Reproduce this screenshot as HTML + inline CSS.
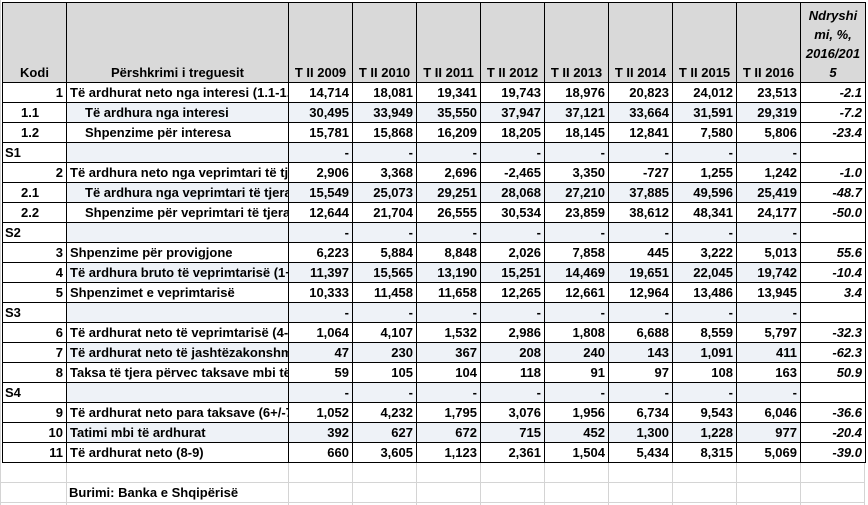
<!DOCTYPE html>
<html><head><meta charset="utf-8"><style>
body{margin:0;width:868px;height:505px;background:#fff;overflow:hidden;position:relative;font-family:"Liberation Sans",Arial,sans-serif;font-weight:bold;font-size:13px;color:#000}
table{border-collapse:collapse;table-layout:fixed;position:absolute;left:2px;top:2px;width:863px}
td{border:1px solid #000;height:19px;padding:0 3px;white-space:nowrap;overflow:hidden;text-align:right;line-height:19px;max-width:0}
tr.h td{height:79px;background:#d9d9d9;text-align:center;vertical-align:bottom;line-height:19px;padding-bottom:0}
td.d{text-align:left;padding-left:3px;text-overflow:clip}
td.i{padding-left:18px}
td.k{text-align:left;padding-left:18px}
td.kr{text-align:right}
td.s{text-align:left;padding-left:2px}
td.p{font-style:italic}
tr.sh td{background:#eef2f7}
tr.sh td.w{background:#fff}
.g{position:absolute;background:#d4d4d4}
</style></head><body>
<div class="g" style="left:0;top:0;width:1px;height:505px"></div>
<div class="g" style="left:1px;top:482px;width:864px;height:1px"></div>
<div class="g" style="left:1px;top:502px;width:864px;height:1px"></div>
<div class="g" style="left:66px;top:462px;width:1px;height:43px"></div>
<div class="g" style="left:288px;top:462px;width:1px;height:43px"></div>
<div class="g" style="left:352px;top:462px;width:1px;height:43px"></div>
<div class="g" style="left:416px;top:462px;width:1px;height:43px"></div>
<div class="g" style="left:480px;top:462px;width:1px;height:43px"></div>
<div class="g" style="left:544px;top:462px;width:1px;height:43px"></div>
<div class="g" style="left:608px;top:462px;width:1px;height:43px"></div>
<div class="g" style="left:672px;top:462px;width:1px;height:43px"></div>
<div class="g" style="left:736px;top:462px;width:1px;height:43px"></div>
<div class="g" style="left:800px;top:462px;width:1px;height:43px"></div>
<div class="g" style="left:864px;top:462px;width:1px;height:43px"></div>
<div style="position:absolute;left:69px;top:484px;line-height:17px">Burimi: Banka e Shqipërisë</div>
<table>
<colgroup><col style="width:64px"><col style="width:222px"><col style="width:64px"><col style="width:64px"><col style="width:64px"><col style="width:64px"><col style="width:64px"><col style="width:64px"><col style="width:64px"><col style="width:64px"><col style="width:65px"></colgroup>
<tr class="h"><td>Kodi</td><td>Përshkrimi i treguesit</td><td>T II 2009</td><td>T II 2010</td><td>T II 2011</td><td>T II 2012</td><td>T II 2013</td><td>T II 2014</td><td>T II 2015</td><td>T II 2016</td><td style="font-style:italic;padding:0 1px">Ndryshi<br>mi, %,<br>2016/201<br>5</td></tr>
<tr><td class="kr">1</td><td class="d">Të ardhurat neto nga interesi (1.1-1.2)</td><td>14,714</td><td>18,081</td><td>19,341</td><td>19,743</td><td>18,976</td><td>20,823</td><td>24,012</td><td>23,513</td><td class="p">-2.1</td></tr>
<tr class="sh"><td class="k w">1.1</td><td class="d i">Të ardhura nga interesi</td><td>30,495</td><td>33,949</td><td>35,550</td><td>37,947</td><td>37,121</td><td>33,664</td><td>31,591</td><td>29,319</td><td class="p w">-7.2</td></tr>
<tr><td class="k">1.2</td><td class="d i">Shpenzime për interesa</td><td>15,781</td><td>15,868</td><td>16,209</td><td>18,205</td><td>18,145</td><td>12,841</td><td>7,580</td><td>5,806</td><td class="p">-23.4</td></tr>
<tr class="sh"><td class="s w">S1</td><td class="d"></td><td>-</td><td>-</td><td>-</td><td>-</td><td>-</td><td>-</td><td>-</td><td>-</td><td class="w"></td></tr>
<tr><td class="kr">2</td><td class="d">Të ardhura neto nga veprimtari të tjera</td><td>2,906</td><td>3,368</td><td>2,696</td><td>-2,465</td><td>3,350</td><td>-727</td><td>1,255</td><td>1,242</td><td class="p">-1.0</td></tr>
<tr class="sh"><td class="k w">2.1</td><td class="d i">Të ardhura nga veprimtari të tjera</td><td>15,549</td><td>25,073</td><td>29,251</td><td>28,068</td><td>27,210</td><td>37,885</td><td>49,596</td><td>25,419</td><td class="p w">-48.7</td></tr>
<tr><td class="k">2.2</td><td class="d i">Shpenzime për veprimtari të tjera</td><td>12,644</td><td>21,704</td><td>26,555</td><td>30,534</td><td>23,859</td><td>38,612</td><td>48,341</td><td>24,177</td><td class="p">-50.0</td></tr>
<tr class="sh"><td class="s w">S2</td><td class="d"></td><td>-</td><td>-</td><td>-</td><td>-</td><td>-</td><td>-</td><td>-</td><td>-</td><td class="w"></td></tr>
<tr><td class="kr">3</td><td class="d">Shpenzime për provigjone</td><td>6,223</td><td>5,884</td><td>8,848</td><td>2,026</td><td>7,858</td><td>445</td><td>3,222</td><td>5,013</td><td class="p">55.6</td></tr>
<tr class="sh"><td class="kr w">4</td><td class="d">Të ardhura bruto të veprimtarisë (1+2-3)</td><td>11,397</td><td>15,565</td><td>13,190</td><td>15,251</td><td>14,469</td><td>19,651</td><td>22,045</td><td>19,742</td><td class="p w">-10.4</td></tr>
<tr><td class="kr">5</td><td class="d">Shpenzimet e veprimtarisë</td><td>10,333</td><td>11,458</td><td>11,658</td><td>12,265</td><td>12,661</td><td>12,964</td><td>13,486</td><td>13,945</td><td class="p">3.4</td></tr>
<tr class="sh"><td class="s w">S3</td><td class="d"></td><td>-</td><td>-</td><td>-</td><td>-</td><td>-</td><td>-</td><td>-</td><td>-</td><td class="w"></td></tr>
<tr><td class="kr">6</td><td class="d">Të ardhurat neto të veprimtarisë (4-5)</td><td>1,064</td><td>4,107</td><td>1,532</td><td>2,986</td><td>1,808</td><td>6,688</td><td>8,559</td><td>5,797</td><td class="p">-32.3</td></tr>
<tr class="sh"><td class="kr w">7</td><td class="d">Të ardhurat neto të jashtëzakonshme</td><td>47</td><td>230</td><td>367</td><td>208</td><td>240</td><td>143</td><td>1,091</td><td>411</td><td class="p w">-62.3</td></tr>
<tr><td class="kr">8</td><td class="d">Taksa të tjera përvec taksave mbi të ardhurat</td><td>59</td><td>105</td><td>104</td><td>118</td><td>91</td><td>97</td><td>108</td><td>163</td><td class="p">50.9</td></tr>
<tr class="sh"><td class="s w">S4</td><td class="d"></td><td>-</td><td>-</td><td>-</td><td>-</td><td>-</td><td>-</td><td>-</td><td>-</td><td class="w"></td></tr>
<tr><td class="kr">9</td><td class="d">Të ardhurat neto para taksave (6+/-7-8)</td><td>1,052</td><td>4,232</td><td>1,795</td><td>3,076</td><td>1,956</td><td>6,734</td><td>9,543</td><td>6,046</td><td class="p">-36.6</td></tr>
<tr class="sh"><td class="kr w">10</td><td class="d">Tatimi mbi të ardhurat</td><td>392</td><td>627</td><td>672</td><td>715</td><td>452</td><td>1,300</td><td>1,228</td><td>977</td><td class="p w">-20.4</td></tr>
<tr><td class="kr">11</td><td class="d">Të ardhurat neto (8-9)</td><td>660</td><td>3,605</td><td>1,123</td><td>2,361</td><td>1,504</td><td>5,434</td><td>8,315</td><td>5,069</td><td class="p">-39.0</td></tr>
</table>
</body></html>
